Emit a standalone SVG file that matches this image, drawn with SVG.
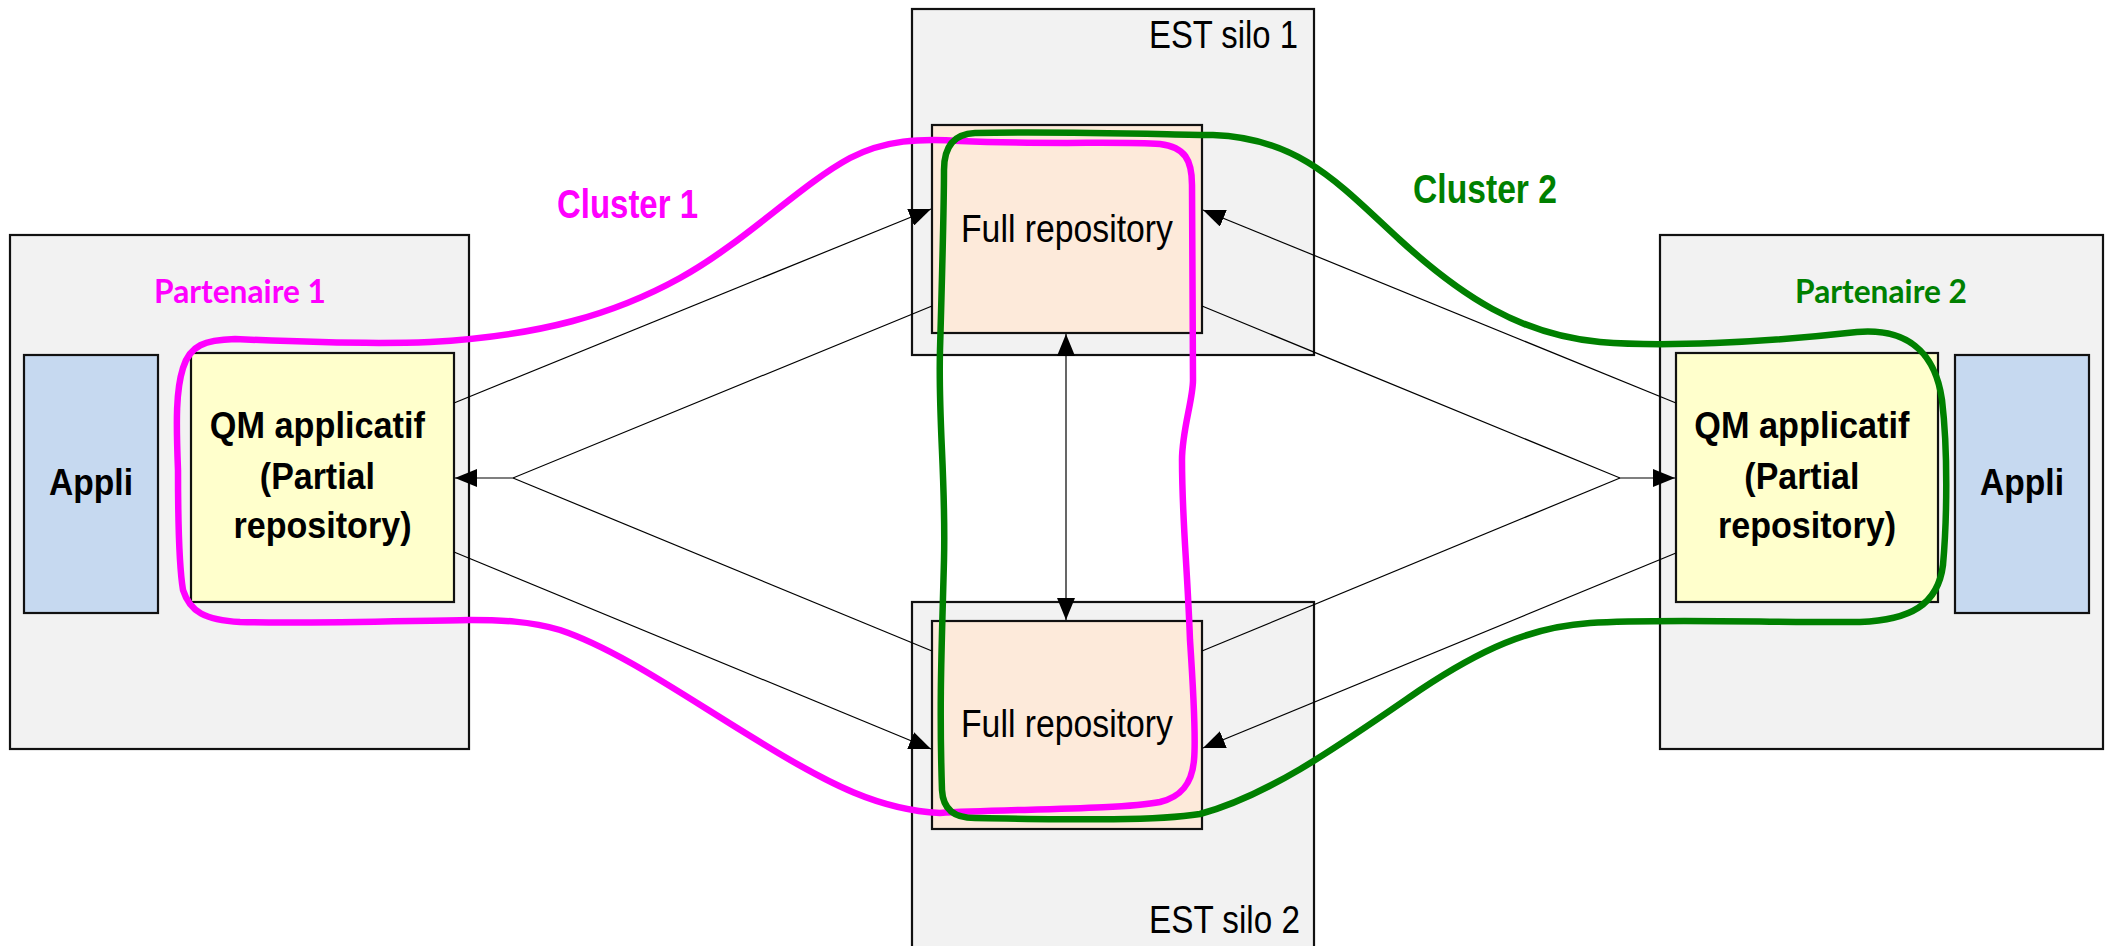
<svg xmlns="http://www.w3.org/2000/svg" width="2114" height="946" viewBox="0 0 2114 946">
<defs>
<style>
.cont{fill:#f2f2f2;stroke:#111;stroke-width:2.2}
.appli{fill:#c6d9f0;stroke:#111;stroke-width:2.2}
.qm{fill:#ffffcc;stroke:#111;stroke-width:2.2}
.fr{fill:#fdeada;stroke:#111;stroke-width:2.2}
.conn{fill:none;stroke:#000;stroke-width:1.2}
.narrow{font-family:"Liberation Sans Narrow","Liberation Sans",Arial,sans-serif}
.black{fill:#000}
.bold{font-weight:bold}
.part{font-family:Lato,"Open Sans","Noto Sans",sans-serif;font-weight:bold;font-size:33px;text-anchor:middle}
.loop{fill:none;stroke-width:6.5;stroke-linejoin:round}
.mag{fill:#ff00ff}
.grn{fill:#008000}
</style>
<marker id="arr" markerUnits="userSpaceOnUse" markerWidth="22" markerHeight="18" refX="22" refY="9" orient="auto-start-reverse" viewBox="0 0 22 18">
<path d="M0,0 L22,9 L0,18 z" fill="#000"/>
</marker>
</defs>
<rect width="2114" height="946" fill="#fff"/>

<g id="partenaire1">
<rect class="cont" x="10" y="235" width="459" height="514"/>
<text class="part mag" x="240" y="303" textLength="172" lengthAdjust="spacingAndGlyphs">Partenaire 1</text>
</g>
<g id="appli1">
<rect class="appli" x="24" y="355" width="134" height="258"/>
<text class="narrow bold black" x="91" y="495" font-size="37" text-anchor="middle" textLength="84" lengthAdjust="spacingAndGlyphs">Appli</text>
</g>
<g id="qm1">
<rect class="qm" x="191" y="353" width="263" height="249"/>
<text class="narrow bold black" font-size="37" text-anchor="middle">
<tspan x="322.5" y="438" textLength="215" lengthAdjust="spacingAndGlyphs">QM applicatif</tspan>
<tspan x="322.5" y="489" textLength="115" lengthAdjust="spacingAndGlyphs">(Partial</tspan>
<tspan x="322.5" y="538" textLength="178" lengthAdjust="spacingAndGlyphs">repository)</tspan>
</text>
</g>

<g id="silo1">
<rect class="cont" x="912" y="9" width="402" height="346"/>
<text class="narrow black" x="1298" y="48" font-size="39" text-anchor="end" textLength="149" lengthAdjust="spacingAndGlyphs">EST silo 1</text>
</g>
<g id="fullrepo1">
<rect class="fr" x="932" y="125" width="270" height="208"/>
<text class="narrow black" x="1067" y="242" font-size="39" text-anchor="middle" textLength="212" lengthAdjust="spacingAndGlyphs">Full repository</text>
</g>

<g id="silo2">
<rect class="cont" x="912" y="602" width="402" height="360"/>
<text class="narrow black" x="1300" y="933" font-size="39" text-anchor="end" textLength="151" lengthAdjust="spacingAndGlyphs">EST silo 2</text>
</g>
<g id="fullrepo2">
<rect class="fr" x="932" y="621" width="270" height="208"/>
<text class="narrow black" x="1067" y="737" font-size="39" text-anchor="middle" textLength="212" lengthAdjust="spacingAndGlyphs">Full repository</text>
</g>

<g id="partenaire2">
<rect class="cont" x="1660" y="235" width="443" height="514"/>
<text class="part grn" x="1881" y="303" textLength="172" lengthAdjust="spacingAndGlyphs">Partenaire 2</text>
</g>
<g id="qm2">
<rect class="qm" x="1676" y="353" width="262" height="249"/>
<text class="narrow bold black" font-size="37" text-anchor="middle">
<tspan x="1807" y="438" textLength="215" lengthAdjust="spacingAndGlyphs">QM applicatif</tspan>
<tspan x="1807" y="489" textLength="115" lengthAdjust="spacingAndGlyphs">(Partial</tspan>
<tspan x="1807" y="538" textLength="178" lengthAdjust="spacingAndGlyphs">repository)</tspan>
</text>
</g>
<g id="appli2">
<rect class="appli" x="1955" y="355" width="134" height="258"/>
<text class="narrow bold black" x="2022" y="495" font-size="37" text-anchor="middle" textLength="84" lengthAdjust="spacingAndGlyphs">Appli</text>
</g>

<g id="connectors">
<path class="conn" d="M454,403 L931,209" marker-end="url(#arr)"/>
<path class="conn" d="M454,552 L931,749" marker-end="url(#arr)"/>
<path class="conn" d="M932,306 L513,478 L455,478" marker-end="url(#arr)"/>
<path class="conn" d="M932,651 L513,478"/>
<path class="conn" d="M1676,403 L1203,210" marker-end="url(#arr)"/>
<path class="conn" d="M1676,553 L1203,748" marker-end="url(#arr)"/>
<path class="conn" d="M1202,306 L1620,478 L1675,478" marker-end="url(#arr)"/>
<path class="conn" d="M1202,651 L1620,478"/>
<path class="conn" d="M1066,334 L1066,620" marker-start="url(#arr)" marker-end="url(#arr)"/>
</g>

<g id="cluster1">
<path class="loop" stroke="#ff00ff" d="M178,470 C176,420 176,390 183,368 C190,345 205,340 235,339 C300,342 380,344 430,342 C540,336 615,314 680,278 C745,242 800,185 850,158 C885,140 920,138 960,141 C1050,145 1120,141 1160,144 C1185,147 1192,160 1192,185 L1193,380 C1193,400 1182,430 1182,460 C1182,520 1187,560 1190,640 C1194,700 1196,740 1194,760 C1192,785 1180,797 1160,802 C1120,810 1000,809 940,813 C880,810 830,785 760,742 C690,700 620,650 560,630 C530,621 500,620 470,620 C400,621 300,624 240,622 C205,620 190,612 183,590 C178,560 178,500 178,470 Z"/>
<text class="narrow bold mag" x="557" y="218" font-size="41" textLength="141" lengthAdjust="spacingAndGlyphs">Cluster 1</text>
</g>

<g id="cluster2">
<path class="loop" stroke="#008000" d="M942,790 C939,700 942,640 944,560 C946,480 938,420 940,350 C942,280 944,200 944,170 C944,145 955,134 975,133 C1050,131 1150,134 1213,135 C1300,138 1340,185 1400,240 C1460,295 1520,335 1600,342 C1660,347 1760,343 1857,332 C1905,328 1935,350 1942,400 C1948,450 1947,520 1943,565 C1938,605 1910,620 1860,622 C1780,623 1660,618 1590,623 C1530,627 1480,650 1420,690 C1340,745 1270,795 1200,814 C1150,822 1050,819 975,818 C955,818 943,810 942,790 Z"/>
<text class="narrow bold grn" x="1413" y="203" font-size="41" textLength="144" lengthAdjust="spacingAndGlyphs">Cluster 2</text>
</g>
</svg>
